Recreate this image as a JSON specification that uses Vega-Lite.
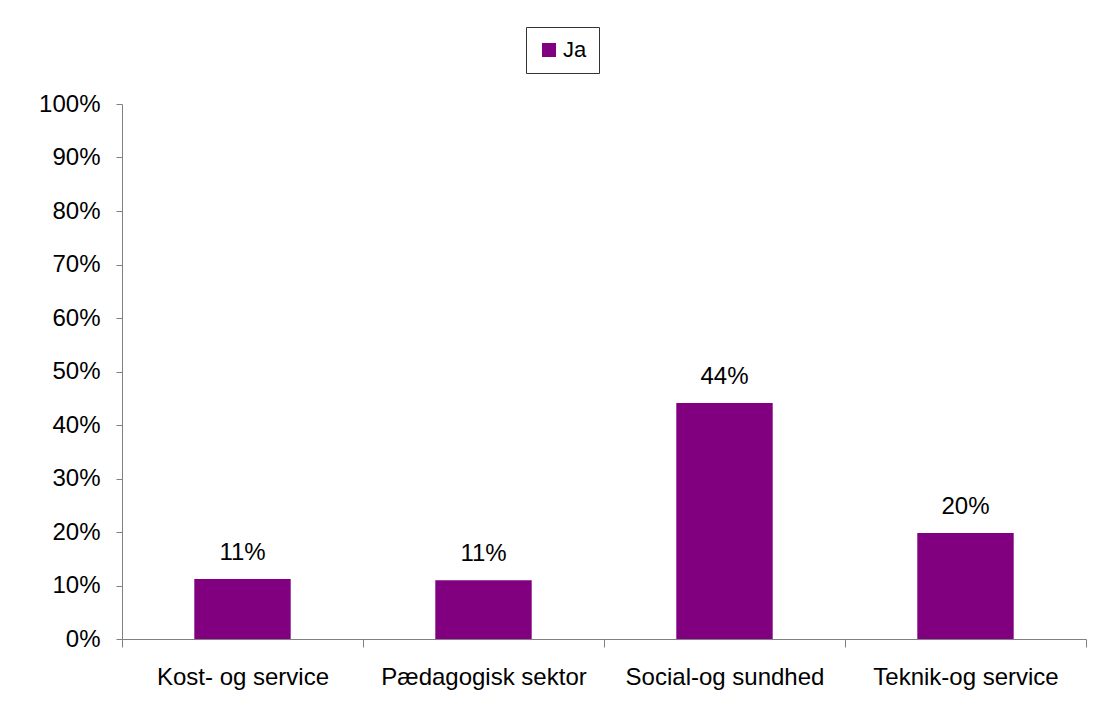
{
  "$schema": "https://vega.github.io/schema/vega-lite/v6.json",
  "width": 964,
  "height": 535,
  "autosize": {"type": "none"},
  "padding": {"left": 122, "top": 104, "right": 16, "bottom": 81},
  "background": "white",
  "config": {
    "font": "Liberation Sans",
    "view": {"stroke": null},
    "axis": {"domainColor": "#808080", "tickColor": "#808080", "labelColor": "black", "labelFontSize": 24, "labelFont": "Liberation Sans", "grid": false, "title": null}
  },
  "data": {
    "values": [
      {"kategori": "Kost- og service", "serie": "Ja", "andel": 0.112},
      {"kategori": "Pædagogisk sektor", "serie": "Ja", "andel": 0.110},
      {"kategori": "Social-og sundhed", "serie": "Ja", "andel": 0.441},
      {"kategori": "Teknik-og service", "serie": "Ja", "andel": 0.198}
    ]
  },
  "encoding": {
    "x": {"field": "kategori", "type": "nominal", "sort": null,
      "scale": {"paddingInner": 0, "paddingOuter": 0}},
    "y": {"field": "andel", "type": "quantitative", "scale": {"domain": [0, 1], "nice": false}}
  },
  "layer": [
    {
      "mark": {"type": "bar", "color": "#800080", "width": {"band": 0.4}},
      "encoding": {
        "color": {"field": "serie", "type": "nominal", "scale": {"range": ["#800080"]},
          "legend": {"orient": "none", "legendX": 404, "legendY": -77, "title": null, "symbolType": "square", "symbolSize": 196, "symbolStrokeWidth": 0, "labelFontSize": 22, "labelFont": "Liberation Sans", "labelColor": "black", "padding": 12, "labelOffset": 3, "strokeColor": "#333333", "fillColor": "white",
            "encoding": {"legend": {"update": {"strokeDash": {"value": [1, 2]}}}}}},
        "x": {"field": "kategori", "type": "nominal", "sort": null,
          "axis": {"labelAngle": 0, "ticks": true, "tickSize": 8, "tickBand": "extent", "labelLimit": 400, "labelPadding": 18, "domain": true}},
        "y": {"field": "andel", "type": "quantitative",
          "axis": {"format": ".0%", "values": [0, 0.1, 0.2, 0.3, 0.4, 0.5, 0.6, 0.7, 0.8, 0.9, 1], "tickSize": 6, "labelPadding": 16}}
      }
    },
    {
      "mark": {"type": "text", "fontSize": 24, "font": "Liberation Sans", "color": "black", "baseline": "alphabetic", "dy": -19},
      "encoding": {
        "text": {"field": "andel", "type": "quantitative", "format": ".0%"}
      }
    }
  ]
}
